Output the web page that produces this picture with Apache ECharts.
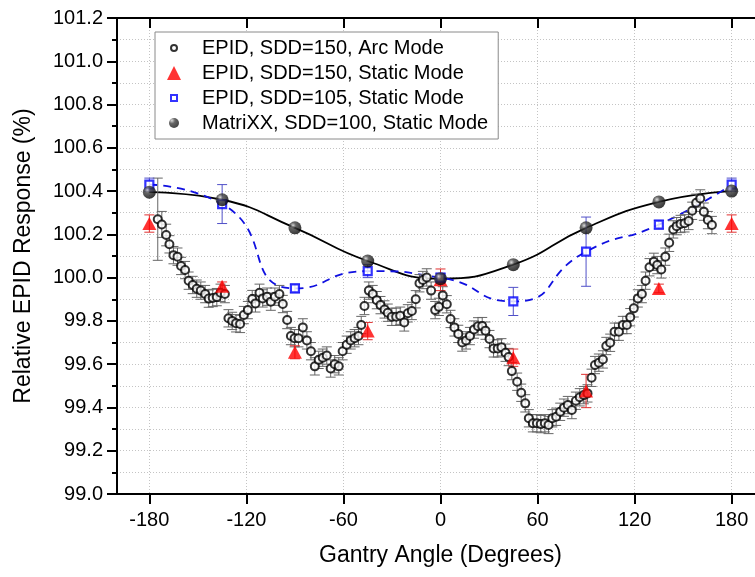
<!DOCTYPE html>
<html>
<head>
<meta charset="utf-8">
<script src="https://cdn.jsdelivr.net/npm/echarts@6/dist/echarts.min.js"></script>
<style>html,body{margin:0;padding:0;background:#fff}#c{width:755px;height:577px}</style>
</head>
<body>
<div id="c"></div>
<script>
// ---- data ----
const xTicks = [-180, -120, -60, 0, 60, 120, 180];
const seriesNames = ['EPID, SDD=150, Arc Mode', 'EPID, SDD=150, Static Mode', 'EPID, SDD=105, Static Mode', 'MatriXX, SDD=100, Static Mode'];

const arcAngle = [-174.8,-172.3,-169.6,-167.6,-165.1,-162.6,-160.4,-157.9,-155.7,-153.2,-150.7,-148.2,-145.5,-143.3,-140.8,-138.3,-136.0,-133.3,-131.1,-128.8,-126.4,-123.9,-121.6,-119.1,-116.4,-114.4,-111.9,-109.9,-107.2,-104.9,-102.4,-99.6,-97.5,-94.8,-92.5,-90.2,-87.8,-85.1,-82.6,-80.1,-77.7,-75.3,-72.8,-70.3,-67.9,-65.4,-62.9,-60.5,-58.0,-55.5,-53.1,-50.7,-49.0,-47.0,-44.3,-41.9,-39.4,-37.1,-34.6,-32.6,-30.1,-27.4,-24.9,-22.4,-20.2,-17.7,-15.3,-13.0,-10.9,-8.5,-5.8,-3.3,-1.0,1.4,3.9,6.2,8.6,11.0,13.4,15.8,18.2,20.7,23.2,25.8,27.8,30.3,32.8,35.4,37.7,40.2,42.1,44.1,47.4,49.9,52.4,54.6,57.1,59.6,62.0,64.5,66.8,69.1,71.5,74.0,76.3,78.7,81.2,83.7,86.1,88.6,90.9,93.4,95.5,97.9,100.4,102.5,104.9,107.6,110.3,112.7,115.2,117.3,119.5,122.0,124.5,126.8,129.2,131.9,134.0,136.5,139.0,141.4,143.9,146.0,148.4,150.9,153.4,155.6,158.1,160.6,162.8,165.3,167.8];
const arcValue = [100.27,100.246,100.197,100.154,100.104,100.097,100.054,100.035,99.986,99.966,99.949,99.94,99.924,99.903,99.906,99.91,99.93,99.924,99.812,99.80,99.789,99.786,99.827,99.85,99.901,99.881,99.93,99.904,99.912,99.889,99.912,99.924,99.878,99.804,99.73,99.72,99.72,99.77,99.71,99.66,99.59,99.62,99.63,99.64,99.58,99.60,99.59,99.66,99.69,99.71,99.72,99.73,99.781,99.869,99.94,99.924,99.896,99.873,99.853,99.838,99.819,99.819,99.824,99.793,99.835,99.846,99.9,99.974,99.989,100.001,99.94,99.85,99.865,99.918,99.877,99.809,99.77,99.74,99.70,99.71,99.73,99.76,99.775,99.776,99.755,99.716,99.673,99.673,99.678,99.653,99.633,99.568,99.519,99.468,99.419,99.35,99.327,99.327,99.323,99.327,99.319,99.35,99.357,99.38,99.399,99.411,99.388,99.431,99.447,99.457,99.465,99.537,99.596,99.607,99.622,99.684,99.699,99.75,99.75,99.781,99.781,99.817,99.858,99.904,99.924,99.986,100.048,100.073,100.058,100.038,100.097,100.161,100.223,100.238,100.248,100.251,100.262,100.309,100.346,100.366,100.305,100.266,100.243];
const arcError = [0.19,0.06,0.05,0.04,0.04,0.04,0.04,0.04,0.04,0.04,0.04,0.04,0.04,0.04,0.04,0.04,0.04,0.04,0.04,0.04,0.04,0.04,0.04,0.04,0.04,0.04,0.04,0.04,0.04,0.04,0.04,0.04,0.04,0.04,0.04,0.04,0.04,0.04,0.04,0.04,0.04,0.04,0.04,0.04,0.04,0.04,0.04,0.04,0.04,0.04,0.04,0.04,0.04,0.04,0.04,0.04,0.04,0.04,0.04,0.04,0.04,0.04,0.04,0.04,0.04,0.04,0.04,0.04,0.04,0.04,0.04,0.04,0.04,0.04,0.04,0.04,0.04,0.04,0.04,0.04,0.04,0.04,0.04,0.04,0.04,0.04,0.04,0.04,0.04,0.04,0.04,0.04,0.04,0.04,0.04,0.04,0.04,0.04,0.04,0.04,0.04,0.04,0.04,0.04,0.04,0.04,0.04,0.04,0.04,0.04,0.04,0.04,0.04,0.04,0.04,0.04,0.04,0.04,0.04,0.04,0.04,0.04,0.04,0.04,0.04,0.04,0.04,0.04,0.04,0.04,0.04,0.04,0.04,0.04,0.04,0.04,0.04,0.04,0.04,0.04,0.04,0.04,0.04,0.04,0.04];

const staticAngle = [-180, -135, -90, -45, 0, 45, 90, 135, 180];
const epid150Static = [100.25, 99.96, 99.655, 99.753, 99.99, 99.63, 99.476, 99.95, 100.25];
const epid150Error = [0.04, 0.02, 0.03, 0.04, 0.05, 0.04, 0.077, 0.02, 0.04];
const epid105Static = [100.43, 100.34, 99.95, 100.03, 100.0, 99.89, 100.12, 100.245, 100.43];
const epid105Error = [0.03, 0.09, 0.02, 0.03, 0.02, 0.065, 0.16, 0.02, 0.03];
const matrixx = [100.395, 100.36, 100.23, 100.077, 99.995, 100.06, 100.23, 100.35, 100.40];

// ---- build ----
const pts = (xs, ys) => xs.map((x, i) => [x, ys[i]]);
const errs = (xs, ys, es) => xs.map((x, i) => [x, ys[i] - es[i], ys[i] + es[i]]);
function errorBar(color, cap) {
  return function (params, api) {
    const x = api.value(0);
    const p1 = api.coord([x, api.value(1)]);
    const p2 = api.coord([x, api.value(2)]);
    const st = { stroke: color, lineWidth: 1 };
    return { type: 'group', children: [
      { type: 'line', shape: { x1: p1[0], y1: p1[1], x2: p2[0], y2: p2[1] }, style: st },
      { type: 'line', shape: { x1: p1[0] - cap, y1: p1[1], x2: p1[0] + cap, y2: p1[1] }, style: st },
      { type: 'line', shape: { x1: p2[0] - cap, y1: p2[1], x2: p2[0] + cap, y2: p2[1] }, style: st }
    ]};
  };
}
const sphere = { type: 'radial', x: 0.35, y: 0.32, r: 0.75,
  colorStops: [{ offset: 0, color: '#d0d0d0' }, { offset: 0.3, color: '#404040' }, { offset: 1, color: '#000' }] };
const FONT = 'Liberation Sans';
const grid = { color: '#c4c4c4', type: [1, 2], width: 1 };

const chart = echarts.init(document.getElementById('c'), null, { renderer: 'canvas' });
chart.setOption({
  animation: false,
  backgroundColor: '#fff',
  grid: { left: 117, top: 18, width: 647, height: 476, containLabel: false, outerBoundsMode: 'none' },
  legend: {
    orient: 'vertical', left: 155, top: 32,
    padding: [6, 10, 6, 11], itemGap: 5, itemWidth: 14, itemHeight: 14,
    borderColor: '#8a8a8a', borderWidth: 1, backgroundColor: '#fff',
    selectedMode: false,
    textStyle: { fontFamily: FONT, fontSize: 20, color: '#000', lineHeight: 20, padding: [0, 0, 0, 16] },
    data: [
      { name: seriesNames[0], icon: 'path://M0,0M14,14M10,7A3,3,0,1,1,4,7A3,3,0,1,1,10,7Z' },
      { name: seriesNames[1], icon: 'triangle' },
      { name: seriesNames[2], icon: 'path://M0,0M14,14M4,4L10,4L10,10L4,10Z' },
      { name: seriesNames[3], icon: 'path://M0,0M14,14M12,7A5,5,0,1,1,2,7A5,5,0,1,1,12,7Z' }
    ]
  },
  xAxis: [{
    type: 'value', min: -200, max: 200, position: 'bottom',
    name: 'Gantry Angle (Degrees)', nameLocation: 'middle', nameGap: 50,
    nameTextStyle: { fontFamily: FONT, fontSize: 23, color: '#000' },
    axisLine: { onZero: false, lineStyle: { color: '#000', width: 2 } },
    axisTick: { show: true, length: 10, lineStyle: { color: '#000', width: 2 }, customValues: xTicks },
    axisLabel: { fontFamily: FONT, fontSize: 20, color: '#000', margin: 16, customValues: xTicks },
    splitLine: { show: true, lineStyle: grid }
  }, {
    type: 'value', min: -200, max: 200, position: 'top',
    axisLine: { onZero: false, lineStyle: { color: '#000', width: 2 } },
    axisTick: { show: true, inside: true, length: 10, lineStyle: { color: '#000', width: 2 }, customValues: xTicks },
    axisLabel: { show: false, customValues: xTicks },
    splitLine: { show: false }
  }],
  yAxis: {
    type: 'value', min: 99.0, max: 101.2, interval: 0.2,
    name: 'Relative EPID Response (%)', nameLocation: 'middle', nameGap: 82,
    nameTextStyle: { fontFamily: FONT, fontSize: 23, color: '#000' },
    axisLine: { onZero: false, lineStyle: { color: '#000', width: 2 } },
    axisTick: { length: 10, lineStyle: { color: '#000', width: 2 } },
    minorTick: { show: true, splitNumber: 2, length: 5, lineStyle: { color: '#000', width: 2 } },
    axisLabel: { fontFamily: FONT, fontSize: 20, color: '#000', margin: 14, formatter: v => v.toFixed(1) },
    splitLine: { show: true, lineStyle: grid },
    minorSplitLine: { show: true, lineStyle: grid }
  },
  series: [
    { type: 'line', name: 'matrixx-fit', data: pts(staticAngle, matrixx), smooth: 0.5, showSymbol: false, silent: true,
      lineStyle: { color: '#000', width: 1.8 }, z: 2 },
    { type: 'line', name: 'epid105-fit', data: pts(staticAngle, epid105Static), smooth: 0.6, showSymbol: false, silent: true,
      lineStyle: { color: '#1010e0', width: 1.8, type: [8, 6] }, z: 2 },
    { type: 'custom', name: 'arc-err', data: errs(arcAngle, arcValue, arcError), renderItem: errorBar('#666', 5), encode: { x: 0, y: [1, 2] }, z: 3, silent: true },
    { type: 'custom', name: 'e150-err', data: errs(staticAngle, epid150Static, epid150Error), renderItem: errorBar('#e03030', 5), encode: { x: 0, y: [1, 2] }, z: 3, silent: true },
    { type: 'custom', name: 'e105-err', data: errs(staticAngle, epid105Static, epid105Error), renderItem: errorBar('#5050c8', 5), encode: { x: 0, y: [1, 2] }, z: 3, silent: true },
    { type: 'scatter', name: seriesNames[0], data: pts(arcAngle, arcValue), symbol: 'circle', symbolSize: 8,
      itemStyle: { color: '#fff', borderColor: '#000', borderWidth: 2 }, z: 4 },
    { type: 'scatter', name: seriesNames[1], data: pts(staticAngle, epid150Static), symbol: 'triangle', symbolSize: [14, 13],
      itemStyle: { color: '#ff0000' }, z: 5 },
    { type: 'scatter', name: seriesNames[2], data: pts(staticAngle, epid105Static), symbol: 'rect', symbolSize: 8,
      itemStyle: { color: '#fff', borderColor: '#0000ff', borderWidth: 2.2 }, z: 5 },
    { type: 'scatter', name: seriesNames[3], data: pts(staticAngle, matrixx), symbol: 'circle', symbolSize: 13,
      itemStyle: { color: sphere }, z: 6 }
  ]
});
</script>
</body>
</html>
